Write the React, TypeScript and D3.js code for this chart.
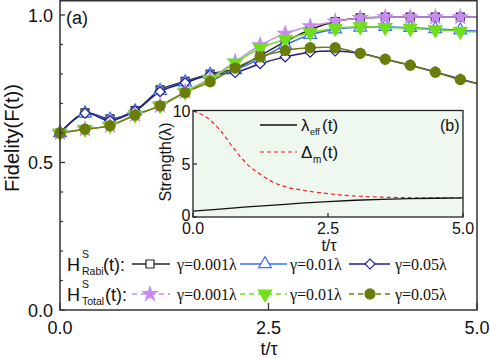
import React from "react";
import * as d3 from "d3";

// ---- data ----
const tGrid = [0, 0.3, 0.6, 0.9, 1.2, 1.5, 1.8, 2.1, 2.4, 2.7, 3.0, 3.3, 3.6, 3.9, 4.2, 4.5, 4.8, 5.0];
const rabi001 = [0.6, 0.668, 0.648, 0.676, 0.746, 0.775, 0.8, 0.818, 0.862, 0.91, 0.95, 0.978, 0.99, 0.993, 0.993, 0.993, 0.993, 0.993];
const rabi01 = [0.6, 0.667, 0.646, 0.674, 0.743, 0.772, 0.798, 0.814, 0.852, 0.898, 0.933, 0.952, 0.958, 0.96, 0.957, 0.953, 0.948, 0.946];
const rabi05 = [0.6, 0.667, 0.642, 0.675, 0.74, 0.77, 0.797, 0.805, 0.835, 0.858, 0.874, 0.878, 0.87, 0.85, 0.83, 0.807, 0.783, 0.768];
const total001 = [0.6, 0.613, 0.625, 0.661, 0.693, 0.74, 0.785, 0.842, 0.898, 0.937, 0.962, 0.978, 0.99, 0.993, 0.993, 0.993, 0.993, 0.993];
const total01 = [0.6, 0.613, 0.625, 0.661, 0.693, 0.739, 0.782, 0.837, 0.888, 0.918, 0.94, 0.955, 0.96, 0.958, 0.955, 0.95, 0.945, 0.943];
const total05 = [0.6, 0.613, 0.625, 0.661, 0.692, 0.737, 0.774, 0.82, 0.858, 0.88, 0.889, 0.889, 0.87, 0.85, 0.83, 0.806, 0.781, 0.768];

const xTicks = [0, 2.5, 5];
const yTicksMajor = [0, 0.5, 1.0];
const yTicksMinor = [0.1, 0.2, 0.3, 0.4, 0.6, 0.7, 0.8, 0.9];

const insetTLam = [0, 0.5, 1, 1.5, 2, 2.5, 3, 3.5, 4, 4.5, 5];
const lambdaEff = [0.55, 0.75, 0.95, 1.12, 1.3, 1.45, 1.58, 1.67, 1.73, 1.77, 1.8];
const insetTDelta = [0, 0.25, 0.5, 0.75, 1, 1.25, 1.5, 1.75, 2, 2.5, 3, 3.5, 4, 4.5, 5];
const deltaM = [10, 9.4, 8.2, 6.5, 5.0, 4.0, 3.25, 2.8, 2.55, 2.2, 1.98, 1.87, 1.82, 1.8, 1.79];
const insetXTicks = [0, 2.5, 5];
const insetYTicks = [0, 5, 10];

type Series = { name: string; values: number[]; color: string; marker: string; fill: string; group: "rabi" | "total"; gamma: string };
const series: Series[] = [
  { name: "rabi001", values: rabi001, color: "#222222", marker: "square", fill: "#ffffff", group: "rabi", gamma: "γ=0.001λ" },
  { name: "rabi01", values: rabi01, color: "#3d6ff0", marker: "triangle", fill: "#ffffff", group: "rabi", gamma: "γ=0.01λ" },
  { name: "rabi05", values: rabi05, color: "#1c1c8f", marker: "diamond", fill: "#ffffff", group: "rabi", gamma: "γ=0.05λ" },
  { name: "total001", values: total001, color: "#c98af0", marker: "star", fill: "#c98af0", group: "total", gamma: "γ=0.001λ" },
  { name: "total01", values: total01, color: "#6fe01a", marker: "triangleDown", fill: "#6fe01a", group: "total", gamma: "γ=0.01λ" },
  { name: "total05", values: total05, color: "#6b7c0c", marker: "circle", fill: "#6b7c0c", group: "total", gamma: "γ=0.05λ" },
];

const SANS = "Liberation Sans, Arial, sans-serif";
const SERIF = "'Liberation Serif', 'Times New Roman', 'DejaVu Serif', serif";

function markerPath(kind: string): { d: string; rot: number } {
  switch (kind) {
    case "square":
      return { d: d3.symbol(d3.symbolSquare, 64)()!, rot: 0 };
    case "triangle":
      return { d: d3.symbol(d3.symbolTriangle, 70)()!, rot: 0 };
    case "triangleDown":
      return { d: d3.symbol(d3.symbolTriangle, 78)()!, rot: 180 };
    case "diamond":
      return { d: d3.symbol(d3.symbolSquare, 50)()!, rot: 45 };
    case "star":
      return { d: d3.symbol(d3.symbolStar, 62)()!, rot: 0 };
    default:
      return { d: d3.symbol(d3.symbolCircle, 80)()!, rot: 0 };
  }
}

function Marker({ kind, x, y, color, fill }: { kind: string; x: number; y: number; color: string; fill: string }) {
  const m = markerPath(kind);
  return (
    <path
      d={m.d}
      transform={`translate(${x},${y}) rotate(${m.rot})`}
      fill={fill}
      stroke={color}
      strokeWidth={1.2}
    />
  );
}

export default function App() {
  const W = 490, H = 358;
  const x = d3.scaleLinear().domain([0, 5]).range([60, 477]);
  const y = d3.scaleLinear().domain([0, 1.05]).range([310, 0.25]);

  const line = d3
    .line<[number, number]>()
    .x((d) => x(d[0]))
    .y((d) => y(d[1]))
    .curve(d3.curveCatmullRom.alpha(0.5));

  // inset
  const ix = d3.scaleLinear().domain([0, 5]).range([193, 463]);
  const iy = d3.scaleLinear().domain([0, 10]).range([217, 111]);
  const iline = d3
    .line<[number, number]>()
    .x((d) => ix(d[0]))
    .y((d) => iy(d[1]))
    .curve(d3.curveMonotoneX);

  const legendRows = [
    { group: "rabi", label: "Rabi", y: 264 },
    { group: "total", label: "Total", y: 294 },
  ];
  const legendCols = [
    { lineX0: 132, lineX1: 170, mx: 150, tx: 177 },
    { lineX0: 240, lineX1: 287, mx: 265, tx: 290 },
    { lineX0: 349, lineX1: 390, mx: 370, tx: 395 },
  ];

  return (
    <svg
      width={W}
      height={H}
      style={{ position: "absolute", left: 0, top: 0, background: "#ffffff" }}
      fontFamily={SANS}
    >
      <rect x={0} y={0} width={W} height={H} fill="#ffffff" />

      {/* main curves */}
      {series.map((s) => (
        <path
          key={s.name + "-l"}
          d={line(tGrid.map((t, i) => [t, s.values[i]] as [number, number]))!}
          fill="none"
          stroke={s.color}
          strokeWidth={1.5}
        />
      ))}
      {series.map((s) => (
        <g key={s.name + "-m"}>
          {tGrid.slice(0, tGrid.length - 1).map((t, i) => (
            <Marker key={i} kind={s.marker} x={x(t)} y={y(s.values[i])} color={s.color} fill={s.fill} />
          ))}
        </g>
      ))}

      {/* main frame */}
      <rect x={60} y={0.75} width={417} height={309.25} fill="none" stroke="#333" strokeWidth={1.5} />
      {xTicks.map((t) => (
        <g key={"xt" + t}>
          <line x1={x(t)} x2={x(t)} y1={310} y2={303} stroke="#333" strokeWidth={1.3} />
          <text x={x(t)} y={333.5} fontSize={18} textAnchor="middle" fill="#111">
            {t.toFixed(1)}
          </text>
        </g>
      ))}
      {yTicksMajor.map((v) => (
        <g key={"yt" + v}>
          <line x1={60} x2={65} y1={y(v)} y2={y(v)} stroke="#333" strokeWidth={1.3} />
          <text x={53} y={y(v) + 6.5} fontSize={18} textAnchor="end" fill="#111">
            {v.toFixed(1)}
          </text>
        </g>
      ))}
      {yTicksMinor.map((v) => (
        <line key={"ym" + v} x1={60} x2={63} y1={y(v)} y2={y(v)} stroke="#333" strokeWidth={1.2} />
      ))}
      <text x={269} y={355} fontSize={18} textAnchor="middle" fill="#111">
        t/τ
      </text>
      <text transform="translate(19,138) rotate(-90)" fontSize={20} textAnchor="middle" fill="#111">
        Fidelity(F(t))
      </text>
      <text x={66} y={24} fontSize={18} fill="#111">
        (a)
      </text>

      {/* legend */}
      {legendRows.map((row) => {
        const rs = series.filter((s) => s.group === row.group);
        return (
          <g key={row.group}>
            <text x={67} y={row.y + 6.5} fontSize={18} fill="#111">H</text>
            <text x={82} y={row.y - 6} fontSize={10.5} fill="#111">S</text>
            <text x={82} y={row.y + 11} fontSize={10.5} fill="#111">{row.label}</text>
            <text x={row.group === "rabi" ? 103 : 105} y={row.y + 6.5} fontSize={18} fill="#111">(t):</text>
            {rs.map((s, j) => {
              const c = legendCols[j];
              return (
                <g key={s.name}>
                  <line
                    x1={c.lineX0}
                    x2={c.lineX1}
                    y1={row.y}
                    y2={row.y}
                    stroke={s.color}
                    strokeWidth={1.5}
                    strokeDasharray={row.group === "total" ? "5,4" : undefined}
                  />
                  <Marker kind={s.marker} x={c.mx} y={row.y} color={s.color} fill={s.fill} />
                  <text x={c.tx} y={row.y + 6} fontSize={16} fontFamily={SERIF} fill="#111">
                    {s.gamma}
                  </text>
                </g>
              );
            })}
          </g>
        );
      })}

      {/* inset */}
      <rect x={193} y={110.5} width={270} height={106.5} fill="#eef8ee" stroke="none" />
      <path
        d={iline(insetTDelta.map((t, i) => [t, deltaM[i]] as [number, number]))!}
        fill="none"
        stroke="#ee2222"
        strokeWidth={1.2}
        strokeDasharray="4,3"
      />
      <path
        d={iline(insetTLam.map((t, i) => [t, lambdaEff[i]] as [number, number]))!}
        fill="none"
        stroke="#111"
        strokeWidth={1.3}
      />
      <rect x={193} y={110.5} width={270} height={106.5} fill="none" stroke="#222" strokeWidth={1.3} />
      {insetXTicks.map((t) => (
        <g key={"ixt" + t}>
          <line x1={ix(t)} x2={ix(t)} y1={217} y2={213} stroke="#222" strokeWidth={1.2} />
          <text x={ix(t)} y={234} fontSize={16} textAnchor="middle" fill="#111">
            {t.toFixed(1)}
          </text>
        </g>
      ))}
      {insetYTicks.map((v) => (
        <g key={"iyt" + v}>
          <line x1={193} x2={197} y1={iy(v)} y2={iy(v)} stroke="#222" strokeWidth={1.2} />
          <text x={190.5} y={iy(v) + (v === 0 ? 3.5 : 5.5)} fontSize={16} textAnchor="end" fill="#111">
            {v}
          </text>
        </g>
      ))}
      <text x={329} y={251} fontSize={16} textAnchor="middle" fill="#111">
        t/τ
      </text>
      <text transform="translate(171,162) rotate(-90)" fontSize={16} textAnchor="middle" fill="#111">
        Strength(λ)
      </text>
      <line x1={260} x2={297} y1={125} y2={125} stroke="#111" strokeWidth={1.3} />
      <text x={301} y={131} fontSize={17} fill="#111">λ</text>
      <text x={310} y={135} fontSize={9} fill="#111">eff</text>
      <text x={322} y={131} fontSize={17} fill="#111">(t)</text>
      <line x1={260} x2={297} y1={152} y2={152} stroke="#ee2222" strokeWidth={1.2} strokeDasharray="4,3" />
      <text x={301} y={158} fontSize={17} fill="#111">Δ</text>
      <text x={313} y={163} fontSize={10} fill="#111">m</text>
      <text x={322} y={158} fontSize={17} fill="#111">(t)</text>
      <text x={440} y={131} fontSize={16} fill="#111">(b)</text>
    </svg>
  );
}
